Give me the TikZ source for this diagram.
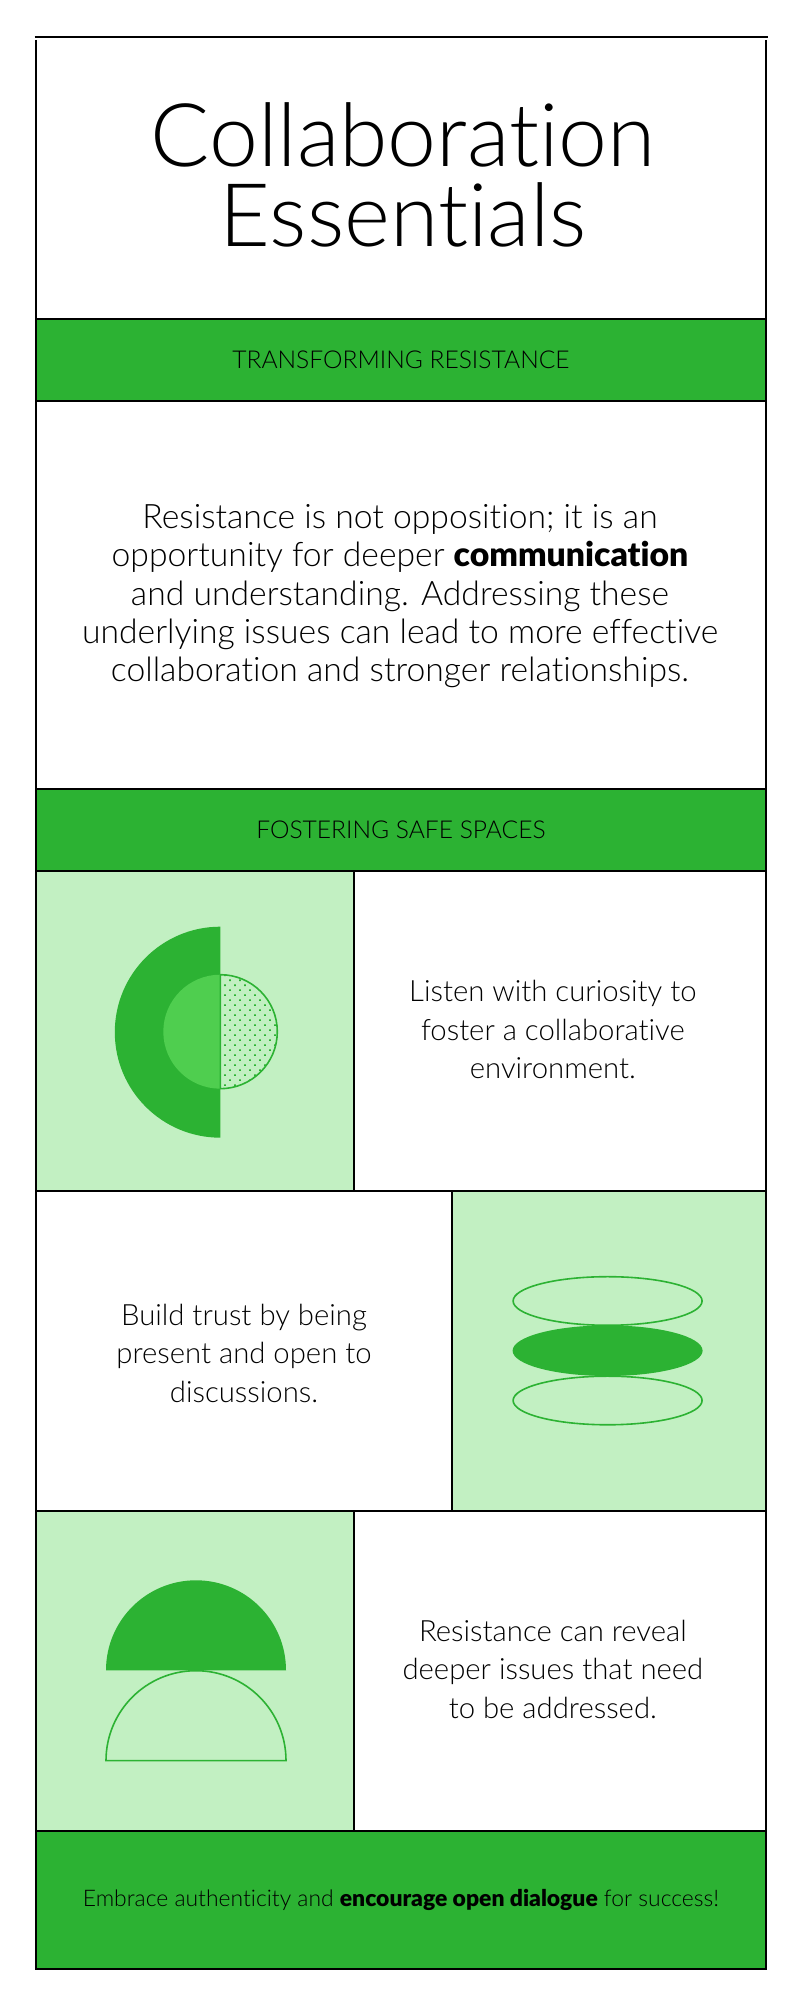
\documentclass[tikz,border=0pt]{standalone}
\usepackage{fontspec}
\setmainfont{Lato Light}[BoldFont={Lato Black}, Ligatures=NoCommon]
\usetikzlibrary{positioning, patterns.meta}
\definecolor{leaf}{HTML}{2CB233}
\definecolor{leaflight}{HTML}{C2F0C2}
\definecolor{leafmid}{HTML}{4FCE4F}

\begin{document}
\begin{tikzpicture}[
    x=1pt, y=1pt,
    line width=2pt,
    cell/.style={rectangle, draw, outer sep=0pt, inner sep=0pt, align=center},
    titlebox/.style={cell, minimum width=730pt, minimum height=282pt, draw=none},
    band/.style={cell, minimum width=730pt, minimum height=82.4pt, fill=leaf, font=\fontsize{24.6}{29}\selectfont},
    bodybox/.style={cell, minimum width=730pt, minimum height=387.5pt},
    imagebox/.style={cell, minimum height=320pt, fill=leaflight},
    textbox/.style={cell, minimum height=320pt},
    rowtext/.style={align=center, inner sep=0pt, font=\fontsize{29.3}{38.4}\selectfont},
    footer/.style={cell, minimum width=730pt, minimum height=137.7pt, fill=leaf, font=\fontsize{22.9}{26}\selectfont},
    solidshape/.style={fill=leaf, draw=none},
    outlineshape/.style={draw=leaf, line width=1.6pt}
]
\useasboundingbox (0,0) rectangle (800,2000);

% Title and first section
\node[titlebox, anchor=north] (title) at (401,1963) {};
\node[font=\fontsize{87.8}{80}\selectfont, align=center] (heading) at ([xshift=2.3pt, yshift=3.5pt]title.center) {Collaboration\\Essentials};
\node[band, below=0pt of title] (resistance) {TRANSFORMING RESISTANCE};
\node[bodybox, below=0pt of resistance] (body) {};
\node[align=center, font=\fontsize{33.7}{38.4}\selectfont] (bodytext) at ([xshift=-1pt, yshift=-1pt]body.center) {Resistance is not opposition; it is an\\opportunity for deeper \textbf{communication}\\and understanding. Addressing these\\underlying issues can lead to more effective\\collaboration and stronger relationships.};
\node[band, below=0pt of body] (spaces) {FOSTERING SAFE SPACES};

% Alternating rows
\node[imagebox, minimum width=317.7pt, below=0pt of spaces.south west, anchor=north west] (imageone) {};
\node[textbox, minimum width=412.3pt, right=0pt of imageone] (textone) {};
\node[textbox, minimum width=416pt, below=0pt of imageone.south west, anchor=north west] (texttwo) {};
\node[imagebox, minimum width=314pt, right=0pt of texttwo] (imagetwo) {};
\node[imagebox, minimum width=317.7pt, below=0pt of texttwo.south west, anchor=north west] (imagethree) {};
\node[textbox, minimum width=412.3pt, right=0pt of imagethree] (textthree) {};
\node[footer, below=0pt of imagethree.south west, anchor=north west] (closing) {Embrace authenticity and \textbf{encourage open dialogue} for success!};

\node[rowtext] (labelone) at ([xshift=-7pt, yshift=1.5pt]textone.center) {Listen with curiosity to\\foster a collaborative\\environment.};
\node[rowtext] (labeltwo) at ([yshift=-2pt]texttwo.center) {Build trust by being\\present and open to\\discussions.};
\node[rowtext] (labelthree) at ([xshift=-7pt, yshift=2pt]textthree.center) {Resistance can reveal\\deeper issues that need\\to be addressed.};

% Frame of the title box
\draw (34.5,1963) -- (767.5,1963);
\draw (title.north west) ++(0,-3) -- (title.south west);
\draw (title.north east) ++(0,-3) -- (title.south east);

% Half disc with dotted circle
\fill[solidshape] (220.3,1073.3) arc[start angle=90, end angle=270, radius=105.5];
\fill[leafmid] (220.3,1025.3) arc[start angle=90, end angle=270, radius=57];
\draw[outlineshape, pattern={Dots[radius=1.2pt, distance=7.07pt, angle=45]}, pattern color=leaf] (220.3,1025.3) arc[start angle=90, end angle=-90, radius=57] -- cycle;

% Stacked ellipses
\draw[outlineshape] (607.6,699) ellipse[x radius=94.5, y radius=24.3];
\fill[solidshape] (607.6,649.3) ellipse[x radius=95, y radius=25.3];
\draw[outlineshape] (607.6,599.5) ellipse[x radius=94.5, y radius=24.3];

% Stacked half discs
\fill[solidshape] (106,329.7) arc[start angle=180, end angle=0, radius=90] -- cycle;
\draw[outlineshape] (106,239.3) arc[start angle=180, end angle=0, radius=90] -- cycle;

\end{tikzpicture}
\end{document}
